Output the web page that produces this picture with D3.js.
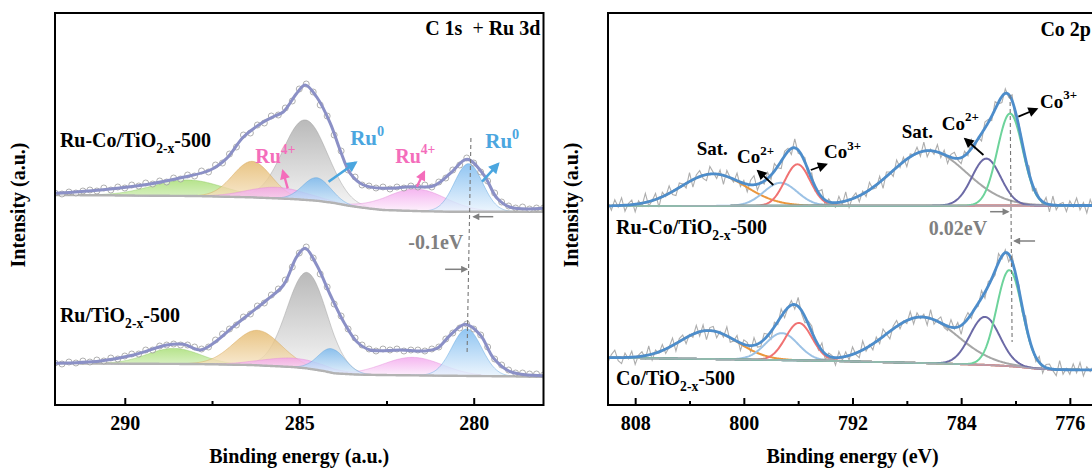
<!DOCTYPE html>
<html><head><meta charset="utf-8">
<script src="https://cdn.jsdelivr.net/npm/d3@7"></script>
<style>
body{margin:0;background:#fff;}
svg{display:block;font-family:'Liberation Serif','Times New Roman',serif;font-weight:bold;}
</style></head><body>
<svg id="c" width="1092" height="468"></svg>
<script>
// ---------------- DATA: C 1s + Ru 3d (left panel) ----------------
const c1sStart = 292, c1sStep = 0.2;           // raw data grid (eV)
const rawRuCo = [212,211,213,212,214,215,214,217,215,218,
 217,220,219,222,221,224,223,227,226,230,
 229,234,233,240,242,251,258,270,272,280,
 282,289,290,297,304,316,321,313,300,289,
 270,254,235,228,220,219,217,218,216,218,
 217,219,218,220,218,223,227,235,240,247,
 242,233,224,212,203,199,197,198,196,197,197];
const rawRu = [42,41,43,42,44,43,45,44,47,46,
 49,51,51,55,55,59,60,61,60,60,
 58,56,58,65,71,76,80,88,91,99,
 102,110,116,125,138,152,158,147,131,118,
 101,89,76,67,60,56,54,56,55,56,
 54,55,55,54,56,58,66,72,77,81,
 76,70,58,46,40,35,32,32,31,31,30];
const envRuCo = [[292.0,211.7],[290.7,215],[289.28,221],[288.33,227.7],[287.55,235],[287.08,246.7],[286.6,268],[286.03,283],[285.7,289],[285.46,293],[285.07,311.7],[284.83,320],[284.5,308],[284.11,281.7],[283.83,255],[283.54,231.7],[283.16,220],[282.59,216.7],[281.82,218.3],[281.16,219],[280.67,231.7],[280.19,245.7],[279.71,230],[279.33,206.7],[278.95,197.7],[278.0,196.7]];
const envRu = [[292.0,41.7],[290.7,44],[289.75,50],[288.8,60],[288.32,60.7],[287.84,55],[287.46,61.7],[286.89,78.3],[286.41,91.7],[285.93,105],[285.45,120],[285.07,148.3],[284.83,156.7],[284.5,140],[284.11,110],[283.73,83.3],[283.35,63.3],[282.97,55],[282.1,55],[281.44,54],[281.05,56.7],[280.67,70],[280.24,80.7],[279.81,70],[279.43,46.7],[278.95,33.3],[278.0,29.3]];
const bgRuCoE = [292,288,286.4,285.2,284.5,284,283.54,283,282.6,281.5,280.67,278];
const bgRuCoV = [210,209,207.7,206,204.3,202,199,196.5,195,193.8,193.3,193.3];
const bgRuE = [292,288,286.4,285.2,284.8,284.3,284,283.4,282.7,280,278];
const bgRuV = [41.7,41,40,38,36.7,34,31.7,30.5,30,29,28.3];
const c1sPeaks   = ["O-C=O","C-O","Ru4+ 3d3/2","C-C","Ru0 3d3/2","Ru4+ 3d5/2","Ru0 3d5/2"];
const ruCoCenter = [288.2, 286.35, 285.65, 284.83, 284.5, 281.65, 280.15];
const ruCoHeight = [16, 36, 11, 80, 23, 22, 48];
const ruCoFwhm   = [2.4, 1.3, 2.0, 1.5, 0.95, 2.0, 0.95];
const ruCenter   = [288.6, 286.2, 285.15, 284.78, 284.07, 281.75, 280.2];
const ruHeight   = [15.5, 35, 9, 96, 24, 18, 47];
const ruFwhm     = [1.8, 1.6, 2.2, 1.35, 0.9, 2.0, 1.0];

// ---------------- DATA: Co 2p (right panel) ----------------
const coStart = 810, coStep = 0.25;            // raw data grid (eV)
const co2pPeaks    = ["Sat.","Co2+ 2p1/2","Co3+ 2p1/2","Sat.","Co2+ 2p3/2","Co3+ 2p3/2"];
const ruCoCoCenter = [802.25, 797.3, 796.05, 786.4, 782.15, 780.4];
const ruCoCoHeight = [32, 23, 41.5, 55, 47, 92];
const ruCoCoFwhm   = [5.6, 2.9, 2.2, 6.5, 2.5, 2.2];
const coCenter     = [802.6, 797.2, 795.95, 786.9, 782.25, 780.45];
const coHeight     = [28.5, 27, 37.5, 46, 48, 96];
const coFwhm       = [5.0, 2.8, 2.3, 6.2, 2.6, 2.2];
const bgRuCoCoE = [810, 774];
const bgRuCoCoV = [199, 199.5];
const bgCoE = [810,800,793.4,786,782,780,778.7,777,774];
const bgCoV = [47.3,45.5,44,41.7,40,38.5,36.7,35.3,35];
// residuals of the raw spectrum about the fit
const resRuCoCo = [3,-4.5,6,-1.5,7.5,-6,1.5,4.5,-7.5,3,-3,9,-4.5,0,6,
 -9,4.5,-1.5,7.5,-3,-6,4.5,1.5,-4.5,9,-7.5,3,6,-3,-6,
 7.5,1.5,-4.5,4.5,-9,6,0,-3,7.5,-4.5,3,-7.5,4.5,9,-6,
 1.5,-3,6,-4.5,7.5,-1.5,-7.5,4.5,3,-6,9,-3,0,4.5,-7.5,
 6,-4.5,1.5,7.5,-6,3,-1.5,-4.5,6,-3,9,-7.5,1.5,4.5,-6,
 3,-4.5,7.5,-1.5,-3,6,-9,4.5,1.5,-6,7.5,-3,4.5,-7.5,3,
 0,6,-4.5,9,-6,1.5,-3,7.5,-4.5,4.5,-7.5,3,6,-1.5,-6,
 4.5,-3,9,-4.5,1.5,-7.5,6,3,-4.5,7.5,-1.5,-6,4.5,-3,6,
 -9,3,1.5,-4.5,7.5,-6,4.5,0,-3,6,-7.5,9,-4.5,1.5,3,
 -6,4.5,-1.5,7.5,-4.5,3,-7.5,6,-3,4.5];
const resCo = [-4.5,3,7.5,-3,-6,4.5,-1.5,6,-7.5,1.5,4.5,-3,9,-6,3,
 -1.5,6,-4.5,0,7.5,-7.5,3,4.5,-6,1.5,-3,7.5,-4.5,6,-9,
 3,4.5,-6,1.5,-3,9,-4.5,-1.5,6,-7.5,4.5,3,-6,7.5,-3,
 -4.5,6,1.5,-7.5,4.5,-3,7.5,-6,0,4.5,-4.5,9,-3,-6,3,
 6,-1.5,-4.5,7.5,-6,3,1.5,-7.5,6,-3,4.5,-4.5,7.5,-1.5,-6,
 9,-3,1.5,-6,4.5,-4.5,7.5,0,-7.5,3,6,-4.5,1.5,-3,7.5,
 -6,4.5,-1.5,3,-7.5,9,-4.5,1.5,6,-3,-4.5,7.5,-1.5,4.5,-9,
 3,6,-4.5,1.5,-3,7.5,-6,4.5,-1.5,-4.5,9,-3,3,-7.5,6,
 -1.5,4.5,-6,7.5,-3,1.5,-4.5,6,-7.5,3,4.5,-1.5,-6,9,-4.5,
 1.5,-4.5,6,-3,7.5,-6,3,-1.5,4.5,-4.5];

const majorL = [290, 285, 280], minorL = [287.5, 282.5];
const majorR = [808, 800, 792, 784, 776], minorR = [804, 796, 788, 780];

// ---------------- STYLE ----------------
const FONT = "'Liberation Serif','Times New Roman',serif";
const cFill = [["#a2dc6c","#f0fae6"],["#e3b564","#fcf2e0"],["#f2a2ec","#fdeefc"],["#a6a6a6","#f6f6f6"],["#72b5ee","#e8f3fd"],["#f2a2ec","#fdeefc"],["#72b5ee","#e8f3fd"]];
const cLine = ["#8cc860","#d4a050","#e08ad8","#9a9a9a","#5aa0dc","#e08ad8","#5aa0dc"];
const drawOrderL = [3,0,1,2,5,4,6];
const coColors = ["#eb963c","#9cc2e5","#f07272","#a6a6a6","#6c6aa6","#6dd39b"];
const PINK = "#f46dbb", BLUE = "#4ba6df", GRAY = "#808080";

// ---------------- SCALES ----------------
const xL = d3.scaleLinear().domain([292, 278]).range([55, 543.5]);
const xR = d3.scaleLinear().domain([810, 774]).range([608, 1097]);
const y  = d3.scaleLinear().domain([0, 392]).range([405, 13]);
const gauss = (e, c, h, w) => h * Math.exp(-4 * Math.LN2 * (e - c) * (e - c) / (w * w));

const svg = d3.select("#c");
const defs = svg.append("defs");
defs.append("clipPath").attr("id","clipL").append("rect").attr("x",xL(292)).attr("y",y(392)).attr("width",xL(278)-xL(292)).attr("height",y(0)-y(392));
defs.append("clipPath").attr("id","clipR").append("rect").attr("x",xR(810)).attr("y",y(392)).attr("width",xR(774)-xR(810)).attr("height",y(0)-y(392));
function marker(id, color, w, h){
  defs.append("marker").attr("id",id).attr("viewBox","0 0 10 10").attr("refX",8).attr("refY",5)
    .attr("markerUnits","userSpaceOnUse").attr("markerWidth",w).attr("markerHeight",h).attr("orient","auto")
    .append("path").attr("d","M0,0L10,5L0,10z").attr("fill",color);
}
marker("mGray", GRAY, 9, 7); marker("mPink", PINK, 11, 10); marker("mBlue", BLUE, 12, 11); marker("mBlack", "#000", 12, 10);
cFill.forEach((c,i)=>{
  const g = defs.append("linearGradient").attr("id","grad"+i).attr("x1",0).attr("y1",0).attr("x2",0).attr("y2",1);
  g.append("stop").attr("offset","0%").attr("stop-color",c[0]);
  g.append("stop").attr("offset","100%").attr("stop-color",c[1]);
});

// ---------------- LEFT PANEL ----------------
const gL = svg.append("g");
const plotL = gL.append("g").attr("clip-path","url(#clipL)");
function drawC1s(raw, env, bgE, bgV, cen, hei, fw){
  const bg = d3.scaleLinear().domain(bgE).range(bgV);
  const grid = d3.range(0, 561).map(i => 292 - i * 0.025);
  drawOrderL.forEach(k=>{
    const pts = grid.map(e => [e, bg(e), bg(e) + gauss(e, cen[k], hei[k], fw[k])]);
    plotL.append("path").datum(pts)
      .attr("d", d3.area().x(d=>xL(d[0])).y0(d=>y(d[1])).y1(d=>y(d[2])))
      .attr("fill","url(#grad"+k+")").attr("fill-opacity",0.78)
      .attr("stroke",cLine[k]).attr("stroke-opacity",0.55).attr("stroke-width",0.8);
  });
  plotL.append("path").datum(grid).attr("d", d3.line().x(e=>xL(e)).y(e=>y(bg(e))))
    .attr("fill","none").attr("stroke","#b3b3b3").attr("stroke-width",2.4);
  plotL.append("g").selectAll("circle").data(raw).join("circle")
    .attr("cx",(d,i)=>xL(c1sStart - i*c1sStep)).attr("cy",d=>y(d)).attr("r",3)
    .attr("fill","#fff").attr("fill-opacity",0.55).attr("stroke","#9c9c9c").attr("stroke-width",0.8);
  plotL.append("path").datum(env).attr("d", d3.line().x(d=>xL(d[0])).y(d=>y(d[1])).curve(d3.curveCatmullRom.alpha(0.5)))
    .attr("fill","none").attr("stroke","#8b90c6").attr("stroke-width",3);
}
drawC1s(rawRuCo, envRuCo, bgRuCoE, bgRuCoV, ruCoCenter, ruCoHeight, ruCoFwhm);
drawC1s(rawRu, envRu, bgRuE, bgRuV, ruCenter, ruHeight, ruFwhm);

// ---------------- RIGHT PANEL ----------------
const gR = svg.append("g");
const plotR = gR.append("g").attr("clip-path","url(#clipR)");
function drawCo(res, bgE, bgV, cen, hei, fw){
  const bg = d3.scaleLinear().domain(bgE).range(bgV);
  const fit = e => bg(e) + cen.reduce((s,c,k)=> s + gauss(e, c, hei[k], fw[k]), 0);
  const rawPts = res.map((r,i)=>{ const e = coStart - i*coStep; return [e, fit(e) + r]; });
  plotR.append("path").datum(rawPts).attr("d", d3.line().x(d=>xR(d[0])).y(d=>y(d[1])))
    .attr("fill","none").attr("stroke","#adadad").attr("stroke-width",1.1);
  const grid = d3.range(0, 721).map(i => 810 - i * 0.05);
  cen.forEach((c,k)=>{
    plotR.append("path").datum(grid).attr("d", d3.line().x(e=>xR(e)).y(e=>y(bg(e) + gauss(e, c, hei[k], fw[k]))))
      .attr("fill","none").attr("stroke",coColors[k]).attr("stroke-width",2);
  });
  plotR.append("path").datum(grid).attr("d", d3.line().x(e=>xR(e)).y(e=>y(bg(e))))
    .attr("fill","none").attr("stroke","#a9a9b8").attr("stroke-width",1.6).attr("stroke-opacity",0.8);
  plotR.append("path").datum(grid).attr("d", d3.line().x(e=>xR(e)).y(e=>y(fit(e))))
    .attr("fill","none").attr("stroke","#4d8dcb").attr("stroke-width",2.8);
}
drawCo(resRuCoCo, bgRuCoCoE, bgRuCoCoV, ruCoCoCenter, ruCoCoHeight, ruCoCoFwhm);
drawCo(resCo, bgCoE, bgCoV, coCenter, coHeight, coFwhm);

// ---------------- FRAMES & AXES ----------------
function frameAxis(g, x, e0, e1, major, minor, title, ylabX){
  g.append("rect").attr("x",x(e0)).attr("y",y(392)).attr("width",x(e1)-x(e0)).attr("height",y(0)-y(392))
    .attr("fill","none").attr("stroke","#000").attr("stroke-width",2);
  const ax = g.append("g").attr("transform",`translate(0,${y(0)})`)
    .call(d3.axisBottom(x).tickValues(major).tickSizeInner(-7).tickSizeOuter(0).tickPadding(11).tickFormat(d3.format("d")));
  ax.select(".domain").remove();
  ax.selectAll("line").attr("stroke","#000").attr("stroke-width",2);
  ax.selectAll("text").attr("font-size",20).attr("font-family",FONT).attr("font-weight","bold").attr("fill","#000");
  const mx = g.append("g").attr("transform",`translate(0,${y(0)})`)
    .call(d3.axisBottom(x).tickValues(minor).tickSizeInner(-4).tickSizeOuter(0).tickFormat(""));
  mx.select(".domain").remove();
  mx.selectAll("line").attr("stroke","#000").attr("stroke-width",2);
  g.append("text").attr("x",(x(e0)+Math.min(x(e1),1097))/2).attr("y",463).attr("text-anchor","middle")
    .attr("font-size",20).text(title);
  g.append("text").attr("transform",`translate(${ylabX},205) rotate(-90)`).attr("text-anchor","middle")
    .attr("font-size",20).text("Intensity (a.u.)");
}
frameAxis(gL, xL, 292, 278, majorL, minorL, "Binding energy (a.u.)", 25);
frameAxis(gR, xR, 810, 774, majorR, minorR, "Binding energy (eV)", 578);

// ---------------- TEXT & ANNOTATIONS ----------------
function rich(g, px, py, parts, size, fill, anchor){
  const t = g.append("text").attr("x",px).attr("y",py).attr("font-size",size).attr("fill",fill)
    .attr("text-anchor",anchor||"start").style("white-space","pre");
  let shift = 0;
  parts.forEach(p=>{
    const target = p.sup ? -0.45*size : p.sub ? 0.3*size : 0;
    const ts = t.append("tspan").attr("dy", target - shift).attr("font-size", (p.sup||p.sub) ? size*0.68 : size).text(p.t);
    if (p.normal) ts.attr("font-weight","normal");
    shift = target;
  });
  return t;
}
function arrow(g, x, a, b, mk, color, w){
  g.append("line").attr("x1",x(a[0])).attr("y1",y(a[1])).attr("x2",x(b[0])).attr("y2",y(b[1]))
    .attr("stroke",color).attr("stroke-width",w).attr("marker-end",`url(#${mk})`);
}
const sample = (name) => [{t:name+"/TiO"},{t:"2-x",sub:true},{t:"-500"}];

// left annotations
rich(gL, xL(278.09), y(370), [{t:"C 1s "},{t:" +",normal:true},{t:" Ru 3d"}], 20, "#000", "end");
rich(gL, xL(291.86), y(258.3), sample("Ru-Co"), 20, "#000");
rich(gL, xL(291.86), y(83), sample("Ru"), 20, "#000");
rich(gL, xL(286.26), y(241.7), [{t:"Ru"},{t:"4+",sup:true}], 20, PINK);
rich(gL, xL(282.25), y(241.7), [{t:"Ru"},{t:"4+",sup:true}], 20, PINK);
rich(gL, xL(283.54), y(260), [{t:"Ru"},{t:"0",sup:true}], 21, BLUE);
rich(gL, xL(279.67), y(256.7), [{t:"Ru"},{t:"0",sup:true}], 21, BLUE);
arrow(gL, xL, [285.33,216.7], [285.47,234], "mPink", PINK, 2.4);
arrow(gL, xL, [281.63,218.3], [281.42,233], "mPink", PINK, 2.4);
arrow(gL, xL, [284.16,223.3], [283.38,242.5], "mBlue", BLUE, 2.6);
arrow(gL, xL, [279.76,223.3], [279.3,241], "mBlue", BLUE, 2.6);
gL.append("line").attr("x1",xL(280.08)).attr("y1",y(267)).attr("x2",xL(280.19)).attr("y2",y(51.7))
  .attr("stroke","#777").attr("stroke-width",1.1).attr("stroke-dasharray","4,3");
arrow(gL, xL, [279.44,188.3], [280.0,188.3], "mGray", GRAY, 1.5);
arrow(gL, xL, [280.82,135.7], [280.2,135.7], "mGray", GRAY, 1.5);
rich(gL, xL(280.3), y(156), [{t:"-0.1eV"}], 20, GRAY, "end");

// right annotations
rich(gR, 1091, y(369), [{t:"Co 2p"}], 20, "#000", "end");
rich(gR, xR(809.41), y(171), sample("Ru-Co"), 20, "#000");
rich(gR, xR(809.41), y(20), sample("Co"), 20, "#000");
rich(gR, xR(803.47), y(250), [{t:"Sat."}], 19, "#000");
rich(gR, xR(800.5), y(241.7), [{t:"Co"},{t:"2+",sup:true}], 19, "#000");
rich(gR, xR(794.09), y(246.7), [{t:"Co"},{t:"3+",sup:true}], 19, "#000");
rich(gR, xR(788.37), y(266.7), [{t:"Sat."}], 19, "#000");
rich(gR, xR(785.43), y(275), [{t:"Co"},{t:"2+",sup:true}], 19, "#000");
rich(gR, xR(778.19), y(297), [{t:"Co"},{t:"3+",sup:true}], 19, "#000");
arrow(gR, xR, [797.83,220], [798.95,234], "mBlack", "#000", 1.8);
arrow(gR, xR, [795.07,235], [793.95,240.5], "mBlack", "#000", 1.8);
arrow(gR, xR, [782.36,250], [783.7,266], "mBlack", "#000", 1.8);
arrow(gR, xR, [779.79,288.3], [778.45,296], "mBlack", "#000", 1.8);
gR.append("line").attr("x1",xR(780.4)).attr("y1",y(310)).attr("x2",xR(780.25)).attr("y2",y(63))
  .attr("stroke","#777").attr("stroke-width",1.1).attr("stroke-dasharray","4,3");
arrow(gR, xR, [781.87,193.3], [780.54,193.3], "mGray", GRAY, 1.5);
arrow(gR, xR, [778.56,164], [780.07,164], "mGray", GRAY, 1.5);
rich(gR, xR(782.09), y(170), [{t:"0.02eV"}], 20, GRAY, "end");
</script>
</body></html>
